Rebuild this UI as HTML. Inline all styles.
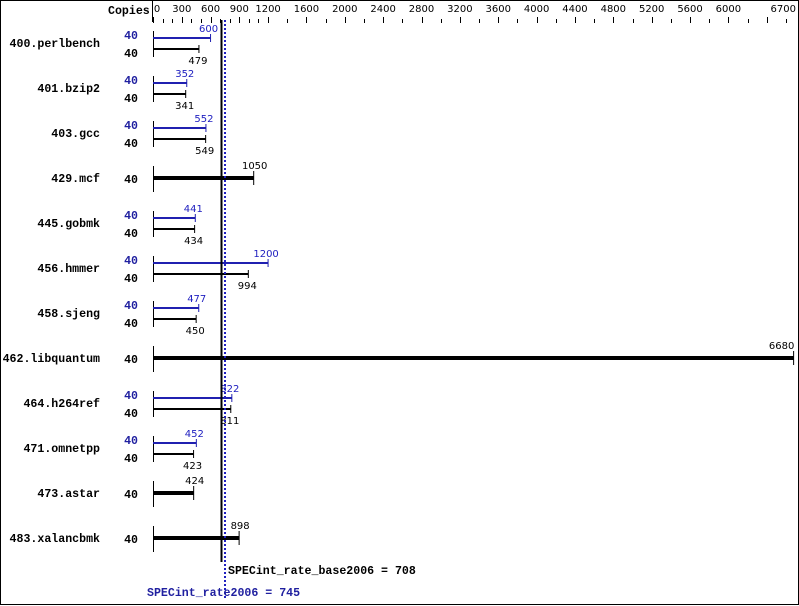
<!DOCTYPE html>
<html><head><meta charset="utf-8"><style>
body{margin:0;background:#fff}
svg{display:block}
.lb{font-family:"Liberation Mono",monospace;font-weight:bold;font-size:11.6px}
.v{font-family:"DejaVu Sans","Liberation Sans",sans-serif;font-size:10px}
</style></head><body>
<svg id="s" width="799" height="606" xmlns="http://www.w3.org/2000/svg"></svg>
<script>
var s=document.getElementById('s'),h='';
function X(v){return 153+v*0.0959;}
h+='<rect x="0.5" y="0.5" width="798" height="604" fill="#fff" stroke="#000"/>';
h+='<text class="lb" x="108" y="14">Copies</text>';
h+='<line x1="152.5" y1="0" x2="152.5" y2="22" stroke="#000"/>';
var labs=[0,300,600,900,1200,1600,2000,2400,2800,3200,3600,4000,4400,4800,5200,5600,6000];
labs.forEach(function(v){var x=X(v);if(v==0)x+=4;h+='<text class="v" x="'+x+'" y="12" text-anchor="middle">'+v+'</text>';});
h+='<text class="v" x="796" y="12" text-anchor="end">6700</text>';
for(var v=0;v<=6700;v+=(v<1200?100:200)){var x=Math.round(X(v))+0.5;var tall=(v<=1200?v%300==0:v%400==0);h+='<line x1="'+x+'" y1="'+(tall?17:19)+'" x2="'+x+'" y2="23" stroke="#000"/>';}
var d=[["400.perlbench",600,479],["401.bzip2",352,341],["403.gcc",552,549],["429.mcf",null,1050],["445.gobmk",441,434],["456.hmmer",1200,994],["458.sjeng",477,450],["462.libquantum",null,6680],["464.h264ref",822,811],["471.omnetpp",452,423],["473.astar",null,424],["483.xalancbmk",null,898]];
d.forEach(function(r,i){var c=43+45*i;
h+='<text class="lb" x="100" y="'+(c+4)+'" text-anchor="end">'+r[0]+'</text>';
h+='<line x1="153.5" y1="'+(c-12)+'" x2="153.5" y2="'+(c+14)+'" stroke="#000"/>';
if(r[1]!=null){var y1=c-5,y2=c+6,xb=X(r[1]),xk=X(r[2]);
h+='<text class="lb" x="138" y="'+(c-4)+'" text-anchor="end" fill="#2020a0">40</text>';
h+='<text class="lb" x="138" y="'+(c+14)+'" text-anchor="end">40</text>';
h+='<line x1="153" y1="'+y1+'" x2="'+xb+'" y2="'+y1+'" stroke="#2020b0" stroke-width="2"/>';
h+='<line x1="'+xb+'" y1="'+(y1-4)+'" x2="'+xb+'" y2="'+(y1+4)+'" stroke="#2020b0"/>';
h+='<text class="v" x="'+(xb-2)+'" y="'+(y1-6)+'" text-anchor="middle" fill="#2020c0">'+r[1]+'</text>';
h+='<line x1="153" y1="'+y2+'" x2="'+xk+'" y2="'+y2+'" stroke="#000" stroke-width="2"/>';
h+='<line x1="'+xk+'" y1="'+(y2-4)+'" x2="'+xk+'" y2="'+(y2+4)+'" stroke="#000"/>';
h+='<text class="v" x="'+(xk-1)+'" y="'+(y2+15)+'" text-anchor="middle">'+r[2]+'</text>';
}else{var xk=X(r[2]);
h+='<text class="lb" x="138" y="'+(c+5)+'" text-anchor="end">40</text>';
h+='<line x1="153" y1="'+c+'" x2="'+xk+'" y2="'+c+'" stroke="#000" stroke-width="4"/>';
h+='<line x1="'+xk+'" y1="'+(c-7)+'" x2="'+xk+'" y2="'+(c+7)+'" stroke="#000"/>';
h+='<text class="v" x="'+(xk-(r[2]>6000?12:-1))+'" y="'+(c-9)+'" text-anchor="middle">'+r[2]+'</text>';}
});
h+='<line x1="221.5" y1="20" x2="221.5" y2="562" stroke="#000" stroke-width="2"/>';
h+='<line x1="225" y1="20" x2="225" y2="598" stroke="#2020c0" stroke-width="2" stroke-dasharray="2,2"/>';
h+='<text class="lb" x="228" y="574">SPECint_rate_base2006 = 708</text>';
h+='<text class="lb" x="147" y="596" fill="#2020a0">SPECint_rate2006 = 745</text>';
s.innerHTML=h;
</script>
</body></html>
